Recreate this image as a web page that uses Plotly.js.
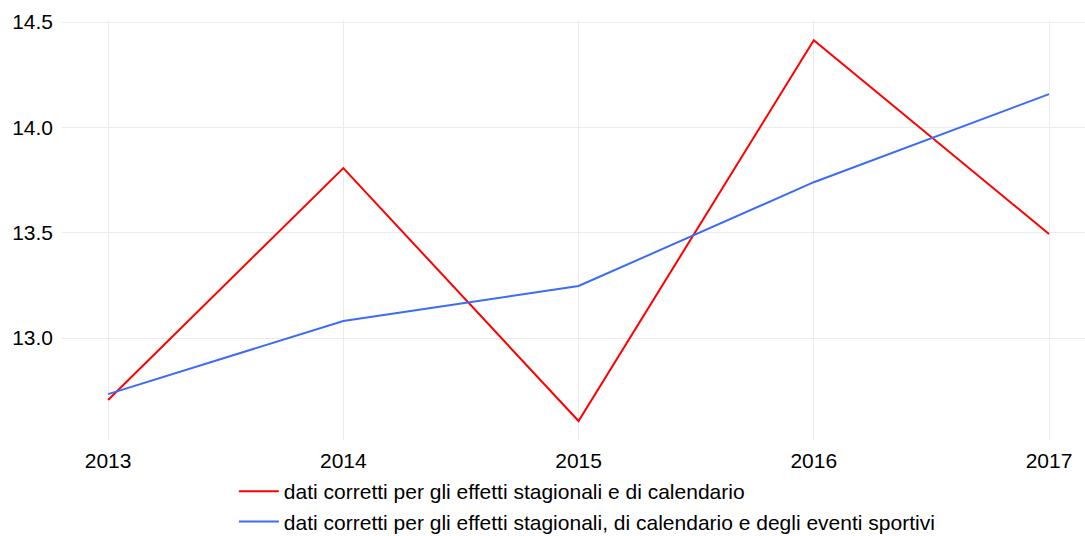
<!DOCTYPE html>
<html>
<head>
<meta charset="utf-8">
<script src="https://cdn.plot.ly/plotly-3.0.1.min.js"></script>
<style>html,body{margin:0;padding:0;background:#fff;overflow:hidden}#chart{width:1085px;height:542px}</style>
</head>
<body>
<div id="chart"></div>
<script>
const years = [2013, 2014, 2015, 2016, 2017];
const seriesNames = [
  "dati corretti per gli effetti stagionali e di calendario",
  "dati corretti per gli effetti stagionali, di calendario e degli eventi sportivi"
];
const seasonalCalendar = [12.706, 13.807, 12.606, 14.414, 13.494];
const seasonalCalendarSports = [12.734, 13.081, 13.247, 13.740, 14.158];
const yTicks = [13.0, 13.5, 14.0, 14.5];
const yTickLabels = ["13.0", "13.5", "14.0", "14.5"];

const traces = [
  {x: years, y: seasonalCalendar, name: seriesNames[0], type: 'scatter', mode: 'lines',
   line: {color: '#ff0000', width: 2}},
  {x: years, y: seasonalCalendarSports, name: seriesNames[1], type: 'scatter', mode: 'lines',
   line: {color: '#3b6cf6', width: 2}}
];

const layout = {
  width: 1085, height: 542,
  margin: {l: 62, r: 0, t: 20, b: 102, pad: 0},
  paper_bgcolor: '#ffffff', plot_bgcolor: '#ffffff',
  font: {family: 'Liberation Sans, Arial, sans-serif', size: 21, color: '#000000'},
  showlegend: true,
  legend: {orientation: 'v', x: 0.168, xanchor: 'left', y: -0.2429, yanchor: 'bottom',
           font: {size: 21}, bgcolor: 'rgba(0,0,0,0)', tracegroupgap: 0, itemwidth: 40},
  xaxis: {range: [2012.804, 2017.153], tickvals: years, ticktext: years.map(String),
          showgrid: true, gridcolor: '#ebebeb', gridwidth: 1, zeroline: false,
          showline: false, ticks: '', ticklabelstandoff: 6, fixedrange: true},
  yaxis: {range: [12.516, 14.51], tickvals: yTicks, ticktext: yTickLabels,
          showgrid: true, gridcolor: '#ebebeb', gridwidth: 1, zeroline: false,
          showline: false, ticks: '', ticklabelstandoff: 8, fixedrange: true}
};

Plotly.newPlot('chart', traces, layout, {displayModeBar: false, staticPlot: true});
</script>
</body>
</html>
